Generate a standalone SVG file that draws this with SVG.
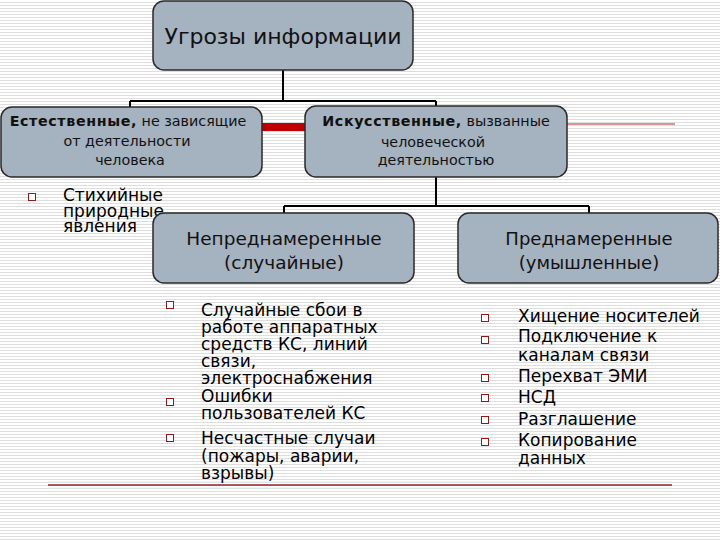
<svg xmlns="http://www.w3.org/2000/svg" width="720" height="540" viewBox="0 0 720 540">
<defs>
<pattern id="stripes" width="4" height="3" patternUnits="userSpaceOnUse">
<rect width="4" height="3" fill="#ffffff"/>
<rect y="2" width="4" height="1" fill="#dedede"/>
</pattern>
<rect id="bul" x="-3.5" y="-3.5" width="7" height="7"/>
</defs>
<style>
.box{fill:#a5b2bf;stroke:#2a2a2a;stroke-width:1.5}
.con{fill:none;stroke:#000;stroke-width:2}
.t{font-family:"DejaVu Sans",Verdana,sans-serif;fill:#111}
.bt{font-family:"DejaVu Sans",Verdana,sans-serif;fill:#000;font-size:17px}
.b{fill:#fff;stroke:#8b1a1a;stroke-width:1}
.bold{font-weight:bold;letter-spacing:0.6px}
</style>
<rect width="720" height="540" fill="url(#stripes)"/>
<g id="connectors">
<path class="con" d="M283 70 V101 M130 101 H436 M130 101 V107 M436 101 V106"/>
<path class="con" d="M436 177 V206 M284 206 H589 M284 206 V213 M589 206 V213"/>
<rect x="261" y="123" width="45" height="8" fill="#c00000"/>
<line x1="567" y1="124" x2="675" y2="124" stroke="#b03030" stroke-width="1.2"/>
<line x1="48" y1="482" x2="672" y2="482" stroke="#d8ecf0" stroke-width="1"/>
<line x1="48" y1="485" x2="672" y2="485" stroke="#9a2020" stroke-width="1.5"/>
<line x1="48" y1="488" x2="672" y2="488" stroke="#d8ecf0" stroke-width="1"/>
</g>
<g id="root">
<rect class="box" x="153" y="1" width="260" height="69" rx="11"/>
<text class="t" x="283" y="44" font-size="22" text-anchor="middle">Угрозы информации</text>
</g>
<g id="natural">
<rect class="box" x="1" y="107" width="261" height="70" rx="11"/>
<text class="t" x="128" y="126" font-size="14.3" text-anchor="middle"><tspan class="bold">Естественные,</tspan> не зависящие</text>
<text class="t" x="127" y="146" font-size="14.3" text-anchor="middle">от деятельности</text>
<text class="t" x="130" y="165" font-size="14.3" text-anchor="middle">человека</text>
</g>
<g id="artificial">
<rect class="box" x="305" y="106" width="262" height="71" rx="11"/>
<text class="t" x="436" y="126" font-size="14.3" text-anchor="middle"><tspan class="bold">Искусственные,</tspan> вызванные</text>
<text class="t" x="433" y="147" font-size="14.3" text-anchor="middle">человеческой</text>
<text class="t" x="436" y="165" font-size="14.3" text-anchor="middle">деятельностью</text>
</g>
<g id="natural-list">
<use href="#bul" class="b" x="32" y="197"/>
<text class="bt" x="63" y="201">Стихийные</text>
<text class="bt" x="63" y="217">природные</text>
<text class="bt" x="63" y="232">явления</text>
</g>
<g id="unintentional">
<rect class="box" x="153" y="213" width="261" height="70" rx="11"/>
<text class="t" x="284" y="245" font-size="18.5" text-anchor="middle">Непреднамеренные</text>
<text class="t" x="284" y="269" font-size="18.5" text-anchor="middle">(случайные)</text>
</g>
<g id="intentional">
<rect class="box" x="458" y="213" width="260" height="70" rx="11"/>
<text class="t" x="589" y="245" font-size="18" text-anchor="middle">Преднамеренные</text>
<text class="t" x="589" y="269" font-size="18" text-anchor="middle">(умышленные)</text>
</g>
<g id="unintentional-list">
<use href="#bul" class="b" x="170" y="305"/>
<use href="#bul" class="b" x="170" y="402"/>
<use href="#bul" class="b" x="170" y="438"/>
<text class="bt" x="201" y="316">Случайные сбои в</text>
<text class="bt" x="201" y="333">работе аппаратных</text>
<text class="bt" x="201" y="350">средств КС, линий</text>
<text class="bt" x="201" y="367">связи,</text>
<text class="bt" x="201" y="384">электроснабжения</text>
<text class="bt" x="201" y="402">Ошибки</text>
<text class="bt" x="201" y="419">пользователей КС</text>
<text class="bt" x="201" y="444">Несчастные случаи</text>
<text class="bt" x="201" y="462">(пожары, аварии,</text>
<text class="bt" x="201" y="479">взрывы)</text>
</g>
<g id="intentional-list">
<use href="#bul" class="b" x="485" y="318"/>
<use href="#bul" class="b" x="485" y="340"/>
<use href="#bul" class="b" x="485" y="378"/>
<use href="#bul" class="b" x="485" y="398"/>
<use href="#bul" class="b" x="485" y="420"/>
<use href="#bul" class="b" x="485" y="442"/>
<text class="bt" x="518" y="322">Хищение носителей</text>
<text class="bt" x="518" y="342">Подключение к</text>
<text class="bt" x="518" y="361">каналам связи</text>
<text class="bt" x="518" y="382">Перехват ЭМИ</text>
<text class="bt" x="518" y="403">НСД</text>
<text class="bt" x="518" y="425">Разглашение</text>
<text class="bt" x="518" y="446">Копирование</text>
<text class="bt" x="518" y="464">данных</text>
</g>
</svg>
